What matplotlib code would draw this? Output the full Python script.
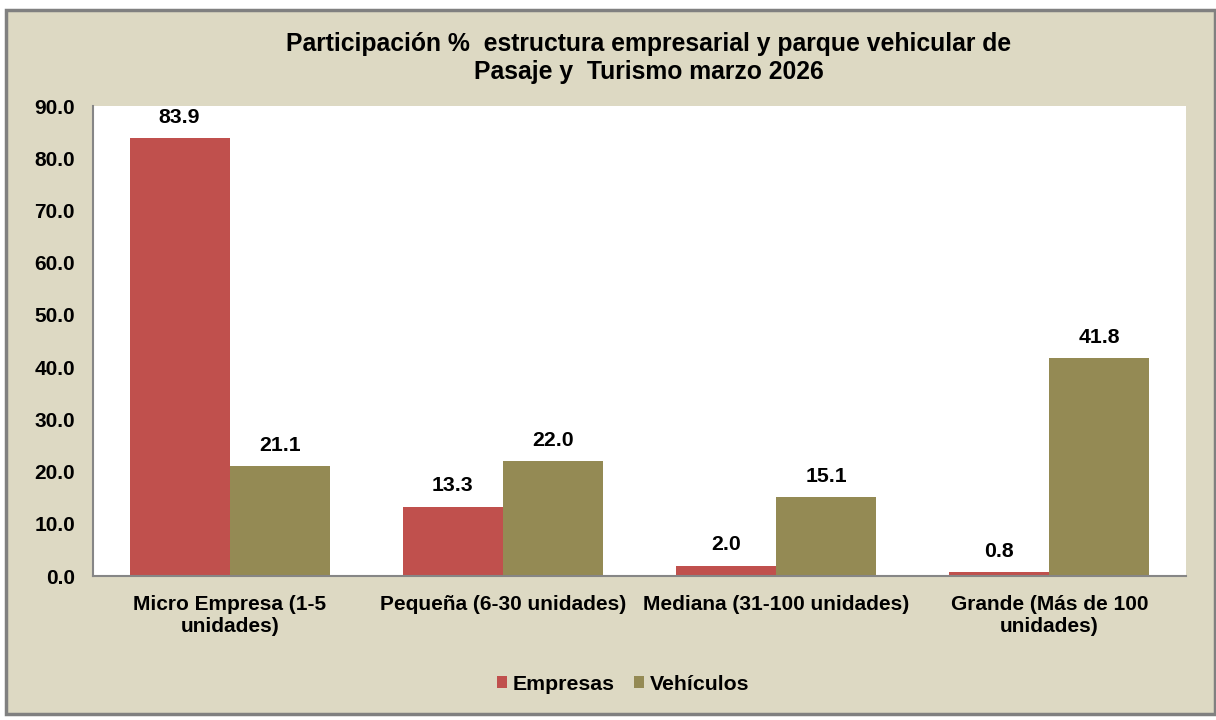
import matplotlib
matplotlib.use("Agg")
import matplotlib.pyplot as plt
from matplotlib.patches import Rectangle
import numpy as np

categories = ["Micro Empresa (1-5\nunidades)", "Pequeña (6-30 unidades)",
              "Mediana (31-100 unidades)", "Grande (Más de 100\nunidades)"]
empresas = [83.9, 13.3, 2.0, 0.8]
vehiculos = [21.1, 22.0, 15.1, 41.8]
series_names = ["Empresas", "Vehículos"]
yticks = [0, 10, 20, 30, 40, 50, 60, 70, 80, 90]
title = "Participación %  estructura empresarial y parque vehicular de\nPasaje y  Turismo marzo 2026"

plt.rcParams['font.family'] = ['Liberation Sans', 'DejaVu Sans']
W, H = 1216, 720
fig = plt.figure(figsize=(W / 100, H / 100), dpi=100)
fig.patch.set_facecolor('white')

bg = '#DDD9C3'
red = '#C0504D'
olive = '#948A54'

# outer chart frame
frame = Rectangle((6 / W, 1 - 714 / H), (1215 - 6) / W, (714 - 10) / H,
                  transform=fig.transFigure, facecolor=bg, edgecolor='#808080',
                  linewidth=2.5, zorder=-10)
fig.patches.append(frame)

ax = fig.add_axes([93 / W, 1 - 576 / H, (1186 - 93) / W, (576 - 106) / H])
ax.set_facecolor('white')

x = np.arange(len(categories))
bw = 0.366
b1 = ax.bar(x - bw / 2, empresas, bw, color=red, label=series_names[0], zorder=2)
b2 = ax.bar(x + bw / 2, vehiculos, bw, color=olive, label=series_names[1], zorder=2)

for bars, vals in ((b1, empresas), (b2, vehiculos)):
    for rect, v in zip(bars, vals):
        ax.annotate(f"{v:.1f}", (rect.get_x() + rect.get_width() / 2, v),
                    xytext=(0, 8), textcoords='offset points', ha='center', va='bottom',
                    fontsize=15.3, fontweight='bold', color='black')

ax.set_xlim(-0.5, len(categories) - 0.5)
ax.set_ylim(0, 90)
ax.set_yticks(yticks)
ax.set_yticklabels([f"{t:.1f}" for t in yticks], fontsize=15, fontweight='bold')
ax.set_xticks(x)
ax.set_xticklabels(categories, fontsize=15, fontweight='bold', linespacing=1.15)
ax.tick_params(axis='x', length=0, pad=14)
ax.tick_params(axis='y', length=0, pad=13)
for s in ['top', 'right']:
    ax.spines[s].set_visible(False)
for s in ['left', 'bottom']:
    ax.spines[s].set_color('#868686')
    ax.spines[s].set_linewidth(1.5)

fig.text(649 / W, 1 - 58 / H, title, ha='center', va='center', fontsize=17.8,
         fontweight='bold', linespacing=1.2)

leg = fig.legend(handles=[b1, b2], labels=series_names, loc='center',
                 bbox_to_anchor=(623 / W, 1 - 684 / H), ncol=2, frameon=False,
                 prop={'size': 15.3, 'weight': 'bold'}, handlelength=0.5, handleheight=0.5,
                 handletextpad=0.25, columnspacing=0.9)

fig.savefig("out.png", dpi=100, facecolor=fig.get_facecolor())
